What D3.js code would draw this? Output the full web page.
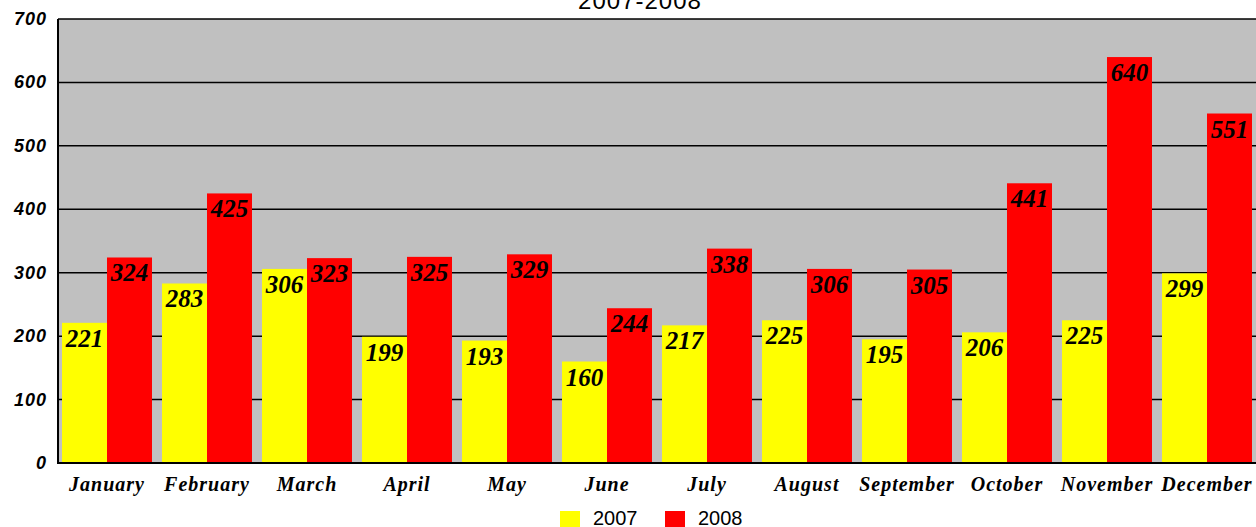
<!DOCTYPE html>
<html>
<head>
<meta charset="utf-8">
<script src="https://cdn.jsdelivr.net/npm/d3@7"></script>
<style>
  body { margin: 0; background: #fff; }
  svg { display: block; }
</style>
</head>
<body>
<div id="chart"></div>
<script>
var months = ['January', 'February', 'March', 'April', 'May', 'June', 'July',
  'August', 'September', 'October', 'November', 'December'];
var years = ['2007', '2008'];
var values2007 = [221, 283, 306, 199, 193, 160, 217, 225, 195, 206, 225, 299];
var values2008 = [324, 425, 323, 325, 329, 244, 338, 306, 305, 441, 640, 551];
var yTicks = [0, 100, 200, 300, 400, 500, 600, 700];
var colors = ['#ffff00', '#ff0000'];

var width = 1256;
var height = 527;
var plotLeft = 58, plotRight = 1257, plotTop = 19, plotBottom = 463;

var svg = d3.select('#chart')
  .append('svg')
  .attr('width', width)
  .attr('height', height);

var scaleX = d3.scaleBand()
  .domain(months)
  .range([plotLeft - 1, plotRight])
  .paddingInner(0.1)
  .paddingOuter(0.05);

var scaleSub = d3.scaleBand()
  .domain(years)
  .range([0, scaleX.bandwidth()]);

var scaleY = d3.scaleLinear()
  .domain([0, 700])
  .range([plotBottom, plotTop]);

// plot background
svg.append('rect')
  .attr('x', plotLeft)
  .attr('y', plotTop)
  .attr('width', plotRight - plotLeft)
  .attr('height', plotBottom - plotTop)
  .attr('fill', '#c0c0c0');

// grid lines
svg.append('g')
  .selectAll('line')
  .data(yTicks)
  .enter()
  .append('line')
  .attr('x1', plotLeft)
  .attr('x2', plotRight)
  .attr('y1', (d) => scaleY(d))
  .attr('y2', (d) => scaleY(d))
  .attr('stroke', '#000')
  .attr('stroke-width', 1.5);

// bars
var series = [values2007, values2008];
var groups = svg.append('g')
  .selectAll('g')
  .data(months)
  .enter()
  .append('g')
  .attr('transform', (d) => 'translate(' + scaleX(d) + ',0)');

groups.selectAll('rect')
  .data((d, i) => years.map((y, k) => ({ year: y, value: series[k][i], k: k })))
  .enter()
  .append('rect')
  .attr('x', (d) => scaleSub(d.year))
  .attr('y', (d) => scaleY(d.value))
  .attr('width', scaleSub.bandwidth())
  .attr('height', (d) => scaleY(0) - scaleY(d.value))
  .attr('fill', (d) => colors[d.k]);

groups.selectAll('text')
  .data((d, i) => years.map((y, k) => ({ year: y, value: series[k][i], k: k })))
  .enter()
  .append('text')
  .attr('x', (d) => scaleSub(d.year) + scaleSub.bandwidth() / 2)
  .attr('y', (d) => scaleY(d.value) + 24)
  .attr('text-anchor', 'middle')
  .style('font-family', '"Liberation Serif", "Times New Roman", serif')
  .style('font-weight', 'bold')
  .style('font-style', 'italic')
  .style('font-size', '25px')
  .text((d) => d.value);

// axes lines
svg.append('line')
  .attr('x1', plotLeft).attr('x2', plotLeft)
  .attr('y1', plotTop).attr('y2', plotBottom + 1)
  .attr('stroke', '#000').attr('stroke-width', 2);
svg.append('line')
  .attr('x1', plotLeft).attr('x2', plotRight)
  .attr('y1', plotBottom).attr('y2', plotBottom)
  .attr('stroke', '#000').attr('stroke-width', 2);

// y labels
svg.append('g')
  .selectAll('text')
  .data(yTicks)
  .enter()
  .append('text')
  .attr('x', 47)
  .attr('y', (d) => scaleY(d) + 6)
  .attr('text-anchor', 'end')
  .style('font-family', '"Liberation Sans", Arial, sans-serif')
  .style('font-weight', 'bold')
  .style('font-style', 'italic')
  .style('font-size', '18px')
  .style('letter-spacing', '1px')
  .text((d) => d);

// x labels
svg.append('g')
  .selectAll('text')
  .data(months)
  .enter()
  .append('text')
  .attr('x', (d) => scaleX(d) + scaleX.bandwidth() / 2)
  .attr('y', 491)
  .attr('text-anchor', 'middle')
  .style('font-family', '"Liberation Serif", "Times New Roman", serif')
  .style('font-weight', 'bold')
  .style('font-style', 'italic')
  .style('font-size', '20px')
  .style('letter-spacing', '1px')
  .text((d) => d);

// title (cut at the top)
svg.append('text')
  .attr('x', 640)
  .attr('y', 9)
  .attr('text-anchor', 'middle')
  .style('font-family', '"Liberation Sans", Arial, sans-serif')
  .style('font-size', '24px')
  .style('letter-spacing', '1px')
  .text('2007-2008');

// legend
var legend = svg.append('g')
  .selectAll('g')
  .data(years)
  .enter()
  .append('g')
  .attr('transform', (d, i) => 'translate(' + (560 + i * 105) + ',511)');

legend.append('rect')
  .attr('width', 20)
  .attr('height', 17)
  .attr('fill', (d, i) => colors[i]);

legend.append('text')
  .attr('x', 33)
  .attr('y', 14)
  .style('font-family', '"Liberation Sans", Arial, sans-serif')
  .style('font-size', '20px')
  .text((d) => d);
</script>
</body>
</html>
